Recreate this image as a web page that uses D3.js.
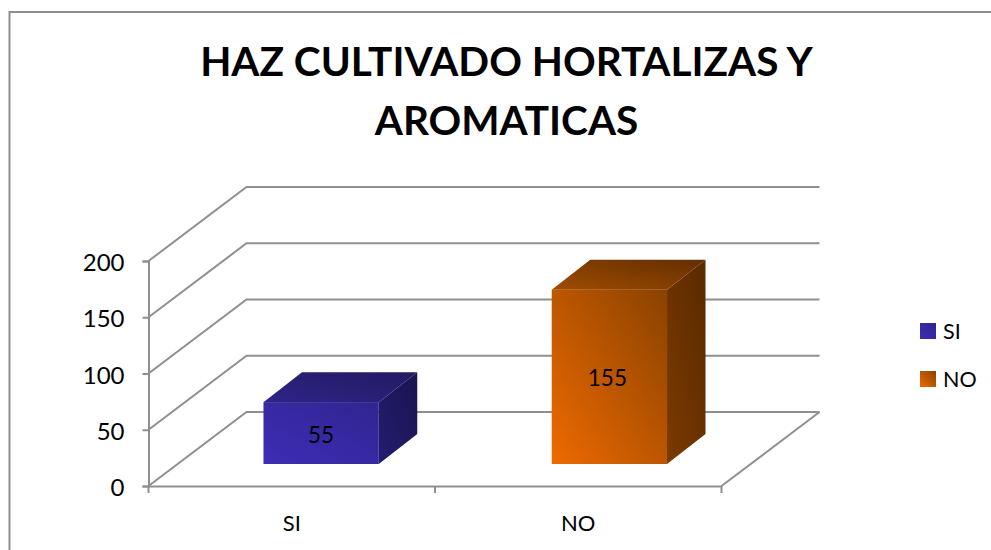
<!DOCTYPE html>
<html>
<head>
<meta charset="utf-8">
<script src="https://cdn.jsdelivr.net/npm/d3@7"></script>
<style>
  html, body { margin: 0; padding: 0; background: #fff; overflow: hidden; }
  text { font-family: Lato, "Open Sans", sans-serif; fill: #000; }
</style>
</head>
<body>
<div id="chart"></div>
<script>
const categories = ['SI', 'NO'];
const values = [55, 155];
const yTicks = [0, 50, 100, 150, 200];
const titleLines = ['HAZ CULTIVADO HORTALIZAS Y', 'AROMATICAS'];
const frontColors = [['#3d2db5', '#2f2590'], ['#ee6a00', '#8a4200']];
const topColors = [['#2f2488', '#221a62'], ['#a04c00', '#632e00']];
const sideColors = [['#241c70', '#1a1450'], ['#7c3a00', '#5a2a00']];

let width = 991;
let height = 550;
let gray = '#8f8f8f';

// front plane of the box and how far the walls go back
let x0 = 148.5, x1 = 721.5, yBase = 486, yTop = 261;
let depth = {x: 98, y: -74};
let barDepth = {x: 38.5, y: -30};
let barOffset = {x: 29, y: -22};

let x = d3.scaleBand().domain(categories).range([x0, x1]);
// bars sit a little wider apart than the axis ticks in the original
let xBar = d3.scaleBand().domain(categories).range([148, 724.5]);
let y = d3.scaleLinear().domain([0, 200]).range([yBase, yTop]);

let svg = d3.select('#chart')
  .append('svg')
  .attr('width', width)
  .attr('height', height);

let defs = svg.append('defs');
function gradient(id, stops) {
  let g = defs.append('linearGradient')
    .attr('id', id)
    .attr('x1', 0).attr('y1', 1).attr('x2', 1).attr('y2', 0);
  g.append('stop').attr('offset', '0%').attr('stop-color', stops[0]);
  g.append('stop').attr('offset', '100%').attr('stop-color', stops[1]);
}
categories.forEach((c, i) => {
  gradient(`front${i}`, frontColors[i]);
  gradient(`top${i}`, topColors[i]);
  gradient(`side${i}`, sideColors[i]);
});

// outer frame, runs off the right and bottom of the picture
svg.append('path')
  .attr('d', `M9.5,${height}V12H${width}`)
  .attr('fill', 'none')
  .attr('stroke', gray)
  .attr('stroke-width', 2);

svg.append('g')
  .attr('class', 'title')
  .selectAll('text')
  .data(titleLines)
  .enter()
  .append('text')
  .attr('x', 506.5)
  .attr('y', (d, i) => 76 + i * 59)
  .attr('text-anchor', 'middle')
  .attr('font-size', 40.5)
  .attr('font-weight', 700)
  .text(d => d);

// back wall, side wall and floor lines
let grid = svg.append('g').attr('class', 'grid')
  .attr('fill', 'none')
  .attr('stroke', gray)
  .attr('stroke-width', 2);
grid.selectAll('path')
  .data(yTicks)
  .enter()
  .append('path')
  .attr('d', d => `M${x0},${y(d)}L${x0 + depth.x},${y(d) + depth.y}H${x1 + depth.x}`);
grid.append('path')
  .attr('d', `M${x1},${yBase}L${x1 + depth.x},${yBase + depth.y}`);

let yAxis = svg.append('g')
  .attr('class', 'y axis')
  .attr('transform', `translate(${x0},0)`)
  .call(d3.axisLeft(y).tickValues(yTicks).tickSize(6).tickPadding(18));
let xAxis = svg.append('g')
  .attr('class', 'x axis')
  .attr('transform', `translate(0,${yBase})`)
  .call(d3.axisBottom(x).tickValues(categories).tickSize(0).tickPadding(29));
xAxis.selectAll('.tick')
  .append('line')
  .attr('x1', x.bandwidth() / 2)
  .attr('x2', x.bandwidth() / 2)
  .attr('y2', 7);
xAxis.append('line')
  .attr('x1', x0).attr('x2', x0).attr('y2', 7);
svg.selectAll('.axis path, .axis line')
  .attr('stroke', gray)
  .attr('stroke-width', 2);
yAxis.selectAll('text')
  .attr('font-size', 24)
  .attr('dy', '0.4em');
xAxis.selectAll('text')
  .attr('font-size', 22);
svg.selectAll('.axis text')
  .attr('font-family', 'Lato, "Open Sans", sans-serif')
  .attr('fill', '#000');

// bars as three faces
let barW = xBar.bandwidth() * 0.4;
let bars = svg.append('g')
  .attr('class', 'bars')
  .selectAll('g')
  .data(categories.map((c, i) => ({c, i, v: values[i]})))
  .enter()
  .append('g');

let barLeft = d => xBar(d.c) + (xBar.bandwidth() - barW) / 2 + barOffset.x;
let barBottom = () => y(0) + barOffset.y;
let barTop = d => y(d.v) + barOffset.y;

bars.append('path')
  .attr('fill', d => `url(#top${d.i})`)
  .attr('d', d => `M${barLeft(d)},${barTop(d)}l${barDepth.x},${barDepth.y}h${barW}l${-barDepth.x},${-barDepth.y}z`);
bars.append('path')
  .attr('fill', d => `url(#side${d.i})`)
  .attr('d', d => `M${barLeft(d) + barW},${barTop(d)}l${barDepth.x},${barDepth.y}V${barBottom() + barDepth.y}L${barLeft(d) + barW},${barBottom()}z`);
bars.append('rect')
  .attr('fill', d => `url(#front${d.i})`)
  .attr('x', d => barLeft(d))
  .attr('y', d => barTop(d))
  .attr('width', barW)
  .attr('height', d => barBottom() - barTop(d));
bars.append('text')
  .attr('x', d => barLeft(d) + barW / 2 - d.i * 2)
  .attr('y', d => (barTop(d) + barBottom()) / 2 + 9.5)
  .attr('text-anchor', 'middle')
  .attr('font-size', 22.5)
  .text(d => d.v);

let legend = svg.append('g')
  .attr('class', 'legend')
  .selectAll('g')
  .data(categories)
  .enter()
  .append('g')
  .attr('transform', (d, i) => `translate(920,${323 + i * 48})`);
legend.append('rect')
  .attr('width', 16)
  .attr('height', 16)
  .attr('fill', (d, i) => `url(#front${i})`);
legend.append('text')
  .attr('x', 23)
  .attr('y', 16)
  .attr('font-size', 21.5)
  .text(d => d);
</script>
</body>
</html>
